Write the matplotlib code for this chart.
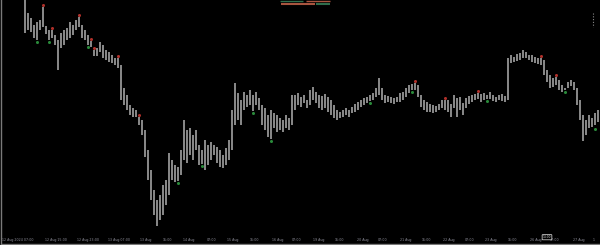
import matplotlib
matplotlib.use("Agg")
import matplotlib.pyplot as plt
from matplotlib.lines import Line2D
import numpy as np

# ---- data: bar highs / lows (price points) ----
highs = [248, 231, 226, 219, 222, 224, 237, 218, 214, 214,
         209, 204, 211, 214, 216, 222, 219, 224, 227, 219,
         214, 209, 203, 194, 196, 202, 199, 194, 192, 189,
         186, 186, 179, 156, 149, 139, 136, 134, 127, 124,
         114, 94, 74, 54, 44, 49, 59, 64, 91, 84,
         79, 77, 94, 124, 114, 116, 109, 114, 99, 94,
         104, 99, 102, 99, 97, 94, 89, 96, 104, 134,
         161, 151, 144, 152, 149, 154, 149, 152, 146, 139,
         136, 129, 134, 131, 129, 126, 124, 129, 126, 149,
         149, 151, 147, 149, 144, 154, 157, 152, 149, 148,
         150, 147, 144, 139, 134, 132, 134, 136, 134, 137,
         140, 142, 144, 146, 147, 149, 151, 156, 166, 156,
         149, 148, 147, 146, 147, 151, 152, 156, 159, 160,
         161, 159, 149, 144, 142, 140, 139, 138, 140, 144,
         144, 144, 140, 149, 146, 147, 141, 146, 148, 149,
         150, 151, 150, 151, 149, 152, 149, 147, 149, 150,
         148, 186, 189, 187, 190, 191, 194, 192, 189, 189,
         187, 186, 186, 184, 174, 169, 166, 167, 164, 159,
         156, 162, 164, 162, 156, 144, 129, 124, 129, 126,
         131, 134]
lows = [211, 214, 212, 206, 204, 214, 217, 210, 204, 206,
        199, 174, 196, 199, 204, 206, 209, 214, 217, 206,
        204, 199, 197, 188, 188, 192, 186, 184, 182, 181,
        179, 176, 144, 139, 134, 129, 127, 127, 119, 109,
        87, 64, 44, 29, 18, 24, 29, 39, 49, 64,
        62, 63, 69, 84, 81, 89, 84, 94, 79, 80,
        74, 79, 84, 89, 81, 77, 76, 79, 84, 94,
        119, 124, 119, 134, 137, 139, 133, 139, 134, 119,
        114, 107, 105, 116, 112, 114, 112, 116, 114, 119,
        134, 139, 137, 141, 136, 139, 144, 141, 136, 134,
        136, 132, 129, 126, 124, 126, 127, 129, 127, 131,
        132, 134, 137, 139, 141, 143, 144, 147, 149, 144,
        141, 142, 141, 140, 142, 142, 144, 147, 151, 154,
        154, 147, 137, 134, 132, 132, 131, 132, 134, 136,
        134, 132, 127, 136, 127, 134, 129, 136, 140, 142,
        144, 145, 142, 144, 145, 145, 143, 142, 144, 143,
        142, 144, 181, 182, 183, 184, 186, 186, 184, 182,
        181, 180, 179, 169, 162, 156, 157, 159, 154, 152,
        154, 156, 158, 154, 139, 124, 103, 109, 116, 117,
        119, 122]

# fractal markers (bar index, price)
up_idx = [6, 9, 18, 22, 23, 31, 38, 130, 140, 151, 172, 177]
up_val = [239, 216, 229, 205, 196, 188, 129, 163, 146, 153, 188, 169]
dn_idx = [4, 8, 21, 51, 59, 76, 82, 115, 129, 154, 180, 190]
dn_val = [202, 202, 197, 61, 78, 131, 103, 141, 152, 143, 152, 115]

# time axis labels (bar positions and texts)
tick_pos = [-7.7, 6.7, 17.3, 27.7, 38.3, 46, 52.7, 60.7, 67.3, 75, 82.3, 89,
            96, 103.3, 110.7, 117.7, 125, 132.3, 139.3, 146.7, 153.3, 161,
            168.3, 175, 182.7, 189.3]
tick_lbl = ['12 Aug 2024 07:00', '12 Aug 15:00', '12 Aug 23:00', '13 Aug 07:00',
            '13 Aug', '15:00', '14 Aug', '07:00', '15 Aug', '15:00',
            '16 Aug', '07:00', '19 Aug', '15:00', '20 Aug', '07:00',
            '21 Aug', '15:00', '22 Aug', '07:00', '23 Aug', '15:00',
            '26 Aug', '07:00', '27 Aug', '1']

# ---- figure ----
W, H = 600, 245
fig = plt.figure(figsize=(W / 100, H / 100), dpi=100, facecolor='black')
ax = fig.add_axes([1 / W, 1 / H, 1 - 1 / W, 244 / H], facecolor='black')

idx = np.arange(len(highs))
ax.vlines(idx, lows, highs, colors='#a2a2a2', linewidth=1.2)
ax.plot(up_idx, up_val, 'o', color='#b0302a', markersize=2.2, markeredgewidth=0)
ax.plot(dn_idx, dn_val, 'o', color='#2a8a3a', markersize=2.2, markeredgewidth=0)

ax.set_xlim(-8.0, 191.67)
ax.set_ylim(0, 244)

for s in ['top', 'right']:
    ax.spines[s].set_visible(False)
for s in ['left', 'bottom']:
    ax.spines[s].set_color('#7a7a7a')
    ax.spines[s].set_linewidth(1.0)

ax.set_yticks([])
ax.set_xticks(tick_pos)
ax.set_xticklabels(tick_lbl, fontsize=2.3, color='#8e8e9a')
ax.tick_params(axis='x', length=0, pad=-4.6)
for lb in ax.get_xticklabels():
    lb.set_ha('left')

# small time marker box on the axis
ax.text(174.0, 6.8, '14:00', fontsize=2.1, color='#dddddd', ha='center', va='center',
        bbox=dict(boxstyle='round,pad=0.2', fc='black', ec='#c8c8c8', lw=0.6))

# indicator legend strips at the top
def fline(x0, x1, y, c, lw):
    fig.add_artist(Line2D([x0 / W, x1 / W], [1 - y / H, 1 - y / H], color=c, lw=lw,
                          solid_capstyle='butt'))

fline(280, 303, 0.6, '#2f6e4c', 1.0)
fline(306, 330, 0.6, '#a8553f', 1.0)
fline(281, 315, 4.0, '#a8553f', 1.5)
fline(316, 330, 4.0, '#2f6e4c', 1.5)

# small dotted marks top-right
fig.add_artist(Line2D([593 / W, 593 / W], [1 - 13 / H, 1 - 27 / H], color='#8a8a8a',
                      lw=0.8, linestyle=(0, (1, 1.5))))

fig.savefig('out.png', dpi=100, facecolor='black')
